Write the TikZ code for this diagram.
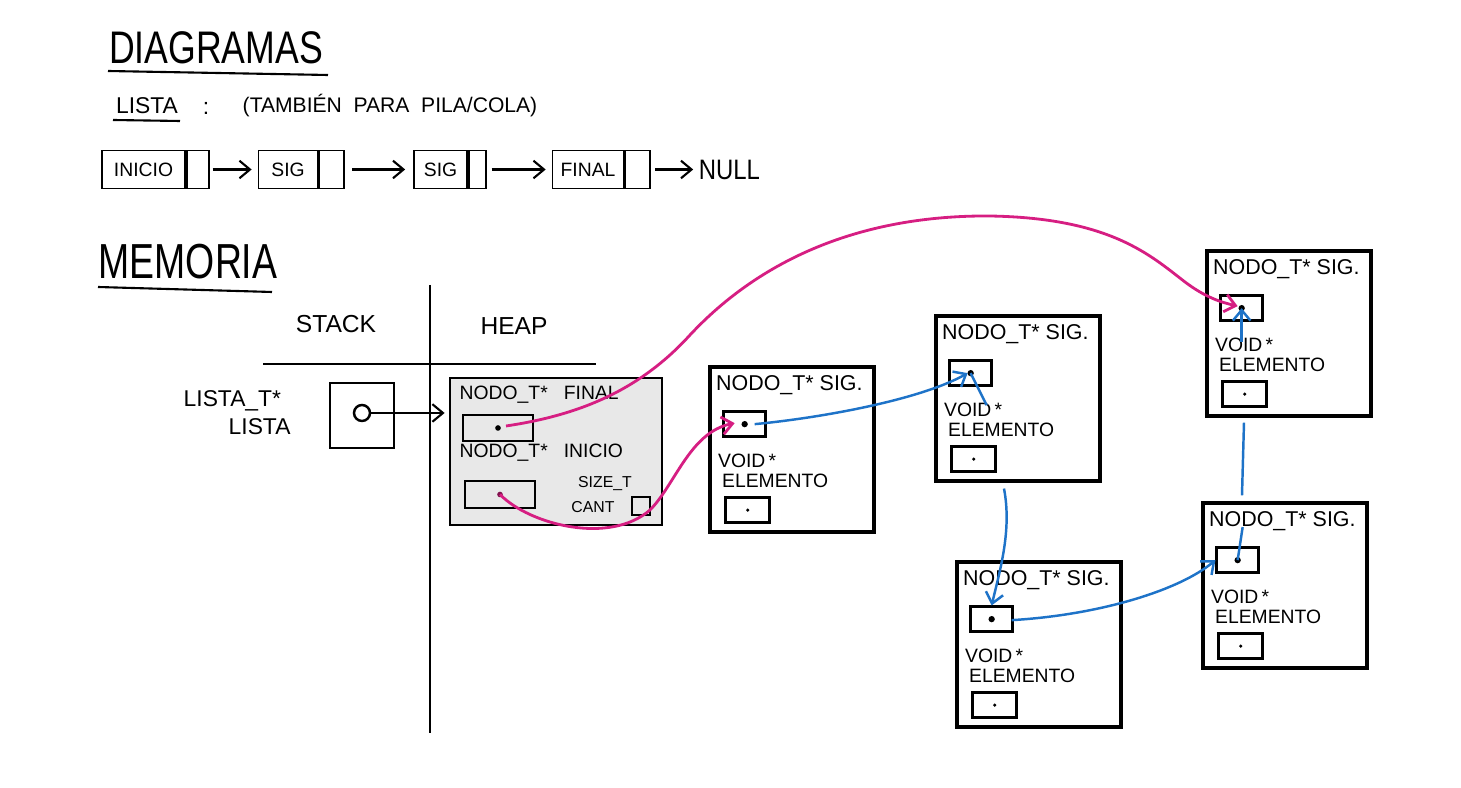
\documentclass[tikz,border=0pt]{standalone}
\usepackage{fontspec}
\setmainfont{Liberation Sans}
\definecolor{ptrpink}{RGB}{214,30,130}
\definecolor{ptrblue}{RGB}{30,115,200}
\definecolor{heapgray}{RGB}{232,232,232}
\usetikzlibrary{calc}
\usetikzlibrary{positioning}
\usetikzlibrary{arrows.meta}

\begin{document}
\begin{tikzpicture}[x=0.1mm, y=-0.1mm,
  hand/.style={font=\fontsize{6.5}{7}\selectfont, inner sep=0pt},
  small/.style={font=\fontsize{5.5}{6}\selectfont, inner sep=0pt},
  typed/.style={font=\fontsize{7}{8}\selectfont, inner sep=0pt},
  headline/.style={font=\fontsize{13}{15}\selectfont, inner sep=0pt},
  nodobox/.style={draw, line width=0.9pt, fill=white, minimum width=16.4mm, minimum height=16.5mm, inner sep=0pt},
  cell/.style={draw, line width=0.7pt, minimum width=4.2mm, minimum height=2.5mm, inner sep=0pt},
  lcell/.style={draw, line width=0.5pt, minimum height=3.8mm, inner sep=0pt, font=\fontsize{5.5}{6}\selectfont},
  arr/.style={-{Straight Barb[length=3pt,width=5pt]}, line width=0.6pt},
  pinkarr/.style={arr, ptrpink, line width=0.8pt},
  bluearr/.style={arr, ptrblue, line width=0.7pt},
  blueline/.style={ptrblue, line width=0.7pt},
]
  \useasboundingbox (0,0) rectangle (1461,788);

  % titles
  \node[headline] (diag) at (216,48) {\scalebox{0.78}[1]{DIAGRAMAS}};
  \draw[line width=0.6pt] (108,71) -- (328,75);
  \node[hand] (lista) at (147,106) {LISTA};
  \draw[line width=0.6pt] (113,120) -- (180,121);
  \node[hand] (colon) at (206,108) {:};
  \node[font=\fontsize{6}{7}\selectfont, inner sep=0pt] (tambien) at (390,106) {(TAMBIÉN\ \ PARA\ \ PILA/COLA)};

  % lista
  \node[lcell, minimum width=8.3mm] (l1) at (143.5,169.5) {INICIO};
  \node[lcell, minimum width=2.2mm, right=0pt of l1] (l1p) {};
  \node[lcell, minimum width=5.9mm, right=4.8mm of l1p] (l2) {SIG};
  \node[lcell, minimum width=2.5mm, right=0pt of l2] (l2p) {};
  \node[lcell, minimum width=5.3mm, right=6.8mm of l2p] (l3) {SIG};
  \node[lcell, minimum width=1.7mm, right=0pt of l3] (l3p) {};
  \node[lcell, minimum width=7.1mm, right=6.5mm of l3p] (l4) {FINAL};
  \node[lcell, minimum width=2.5mm, right=0pt of l4] (l4p) {};
  \node[font=\fontsize{8}{9}\selectfont, inner sep=0pt, right=4.7mm of l4p] (null) {\scalebox{0.85}[1]{NULL}};
  \draw[arr, shorten <=0.3mm, shorten >=0.6mm] (l1p) -- (l2);
  \draw[arr, shorten <=0.7mm, shorten >=0.8mm] (l2p) -- (l3);
  \draw[arr, shorten <=0.5mm, shorten >=0.6mm] (l3p) -- (l4);
  \draw[arr, shorten <=0.4mm, shorten >=0.5mm] (l4p) -- (null);

  % memoria
  \node[headline, font=\fontsize{14}{16}\selectfont] (memoria) at (188,262) {\scalebox{0.76}[1]{MEMORIA}};
  \draw[line width=0.6pt] (98,287) -- (272,292);
  \draw[line width=0.6pt] (430,285) -- (430,733);
  \draw[line width=0.6pt] (263,364) -- (596,364);
  \node[typed] (stack) at (336,324) {STACK};
  \node[typed] (heaplbl) at (514,326) {HEAP};

  % stack
  \node[hand, anchor=west] (tipo) at (183,401) {LISTA\_T*};
  \node[hand, anchor=west] (var) at (228,427) {LISTA};
  \node[draw, line width=0.8pt, minimum width=6.4mm, minimum height=6.5mm] (listabox) at (362,415.5) {};
  \node[draw, circle, line width=0.7pt, minimum size=1.6mm, inner sep=0pt] (o) at (362,413) {};

  % heap
  \node[draw, line width=0.8pt, fill=heapgray, minimum width=21.2mm, minimum height=14.7mm] (heap) at (556,451.5) {};
  \node[small, anchor=west] (finlbl) at (459,395) {NODO\_T*\ \ \ FINAL};
  \node[cell, minimum width=7mm, minimum height=2.6mm] (hf) at (498,428) {};
  \fill (hf.center) circle (0.8pt);
  \node[small, anchor=west] (inilbl) at (459,453) {NODO\_T*\ \ \ INICIO};
  \node[cell, minimum width=7mm, minimum height=2.7mm] (hi) at (500,494.5) {};
  \fill[ptrpink!60!black] (hi.center) circle (0.8pt);
  \node[font=\fontsize{4.5}{5}\selectfont, inner sep=0pt] (size) at (605,484) {SIZE\_T};
  \node[font=\fontsize{4.5}{5}\selectfont, inner sep=0pt] (cant) at (593,507) {CANT};
  \node[draw, line width=0.7pt, minimum size=1.8mm, inner sep=0pt] (cantbox) at (641,506) {};

  \draw[arr, shorten >=0.4mm] (o) -- (heap.west |- o);

  % nodos
  \foreach \n/\x/\y in {1/710/367, 2/936/316, 3/957/562, 4/1203/503, 5/1207/251} {
    \node[nodobox] (n\n) at (\x+82,\y+82.5) {};
    \node[hand, font=\fontsize{6.1}{7}\selectfont, anchor=west] (t\n) at ($(n\n.north west)+(7,20)$) {NODO\_T*\ SIG.};
    \node[cell, anchor=north west] (p\n) at ($(n\n.north west)+(14,45)$) {};
    \fill (p\n.center) circle (0.9pt);
    \node[small, anchor=west] (v\n) at ($(n\n.north west)+(9,95)$) {VOID\,*};
    \node[small, anchor=west] (e\n) at ($(n\n.north west)+(13,115)$) {ELEMENTO};
    \node[cell, anchor=north west, minimum width=4.4mm] (c\n) at ($(n\n.north west)+(16,131)$) {};
    \fill (c\n.center) circle (0.5pt);
  }

  \coordinate (n2out) at ($(n2.south)+(-14,6)$);
  \coordinate (n4out) at ($(n4.north)+(-43,-6)$);
  \coordinate (n5in) at ($(n5.south)+(-45,5)$);

  % punteros
  \draw[pinkarr] ($(hf.center)+(8,-2)$) .. controls (580,415) and (640,390) .. (690,335)
    .. controls (760,260) and (860,215) .. (990,216)
    .. controls (1110,218) and (1150,255) .. (1185,282)
    .. controls (1205,297) and (1220,302) .. ($(p5.center)+(-4,-2)$);
  \draw[pinkarr] (hi.center) .. controls (530,525) and (610,545) .. (650,510)
    .. controls (675,485) and (690,432) .. ($(p1.center)+(-10,-1)$);

  \draw[bluearr] ($(p1.center)+(10,0)$) .. controls (820,418) and (920,400) .. ($(p2.center)+(-3,0)$);
  \draw[blueline] (p2.center) -- ++(16,32);
  \draw[bluearr] (n2out) .. controls (1012,530) and (1000,570) .. (p3.north);
  \draw[bluearr] ($(p3.center)+(20,1)$) .. controls (1100,615) and (1180,590) .. (p4.west);
  \draw[blueline] (p4.center) -- ++(5,-33);
  \draw[blueline] (n4out) -- (n5in);
  \draw[bluearr] ($(p5.south)+(0,20)$) -- (p5.center);
\end{tikzpicture}
\end{document}
